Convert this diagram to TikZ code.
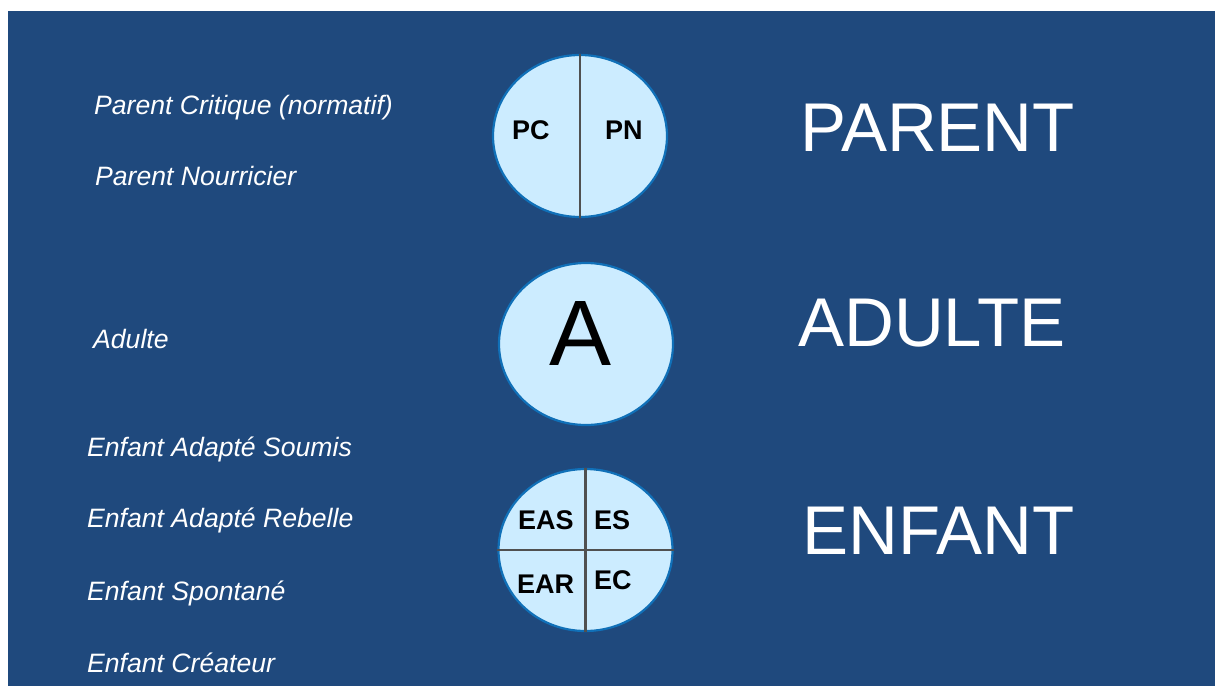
\documentclass[tikz,border=0pt]{standalone}
\usepackage{fontspec}
\setmainfont{Liberation Sans}
\usetikzlibrary{shapes.geometric}
\definecolor{fond}{RGB}{31,73,125}
\definecolor{bulle}{RGB}{204,236,255}
\definecolor{bord}{RGB}{16,112,184}
\definecolor{trait}{RGB}{80,80,80}
\tikzset{
  etat/.style={ellipse,draw=bord,line width=2.2pt,fill=bulle,minimum width=174pt,minimum height=162pt,inner sep=0pt},
  role/.style={anchor=base west,text=white,inner sep=0pt,font=\fontsize{26.6}{30}\selectfont\itshape},
  titre/.style={anchor=base west,text=white,inner sep=0pt,font=\fontsize{69}{80}\selectfont},
  code/.style={anchor=base west,inner sep=0pt,font=\fontsize{27}{32}\selectfont\bfseries}
}

\begin{document}
\begin{tikzpicture}[x=1pt,y=-1pt]
    \useasboundingbox (0,0) rectangle (1215,686);
    \fill[fond] (8,11) rectangle (1215,686);
    \node[etat] (parent) at (580,136) {};
    \node[etat] (adulte) at (586,344) {};
    \node[etat] (enfant) at (585.5,550) {};
    \draw[trait,line width=2.5pt] (parent.north) -- (parent.south);
    \draw[trait,line width=2.5pt] (enfant.north) -- (enfant.south);
    \draw[trait,line width=2.5pt] (enfant.west) -- (enfant.east);
    \node[code] (pc) at (512,139) {PC};
    \node[code] (pn) at (605,139) {PN};
    \node[code] (eas) at (518,529) {EAS};
    \node[code] (es) at (594,529) {ES};
    \node[code] (ear) at (517,593) {EAR};
    \node[code] (ec) at (594,589) {EC};
    \node[anchor=base,inner sep=0pt,font=\fontsize{93}{100}\selectfont] (a) at (581,365) {A};
    \node[role] (critique) at (94,114) {Parent Critique (normatif)};
    \node[role] (nourricier) at (95,185) {Parent Nourricier};
    \node[role] (adu) at (93,348) {Adulte};
    \node[role] (soumis) at (87,456) {Enfant Adapté Soumis};
    \node[role] (rebelle) at (87,527) {Enfant Adapté Rebelle};
    \node[role] (spontane) at (87,600) {Enfant Spontané};
    \node[role] (createur) at (87,672) {Enfant Créateur};
    \node[titre] (tparent) at (800,151) {PARENT};
    \node[titre] (tadulte) at (798,346) {ADULTE};
    \node[titre] (tenfant) at (802,554) {ENFANT};
\end{tikzpicture}
\end{document}
